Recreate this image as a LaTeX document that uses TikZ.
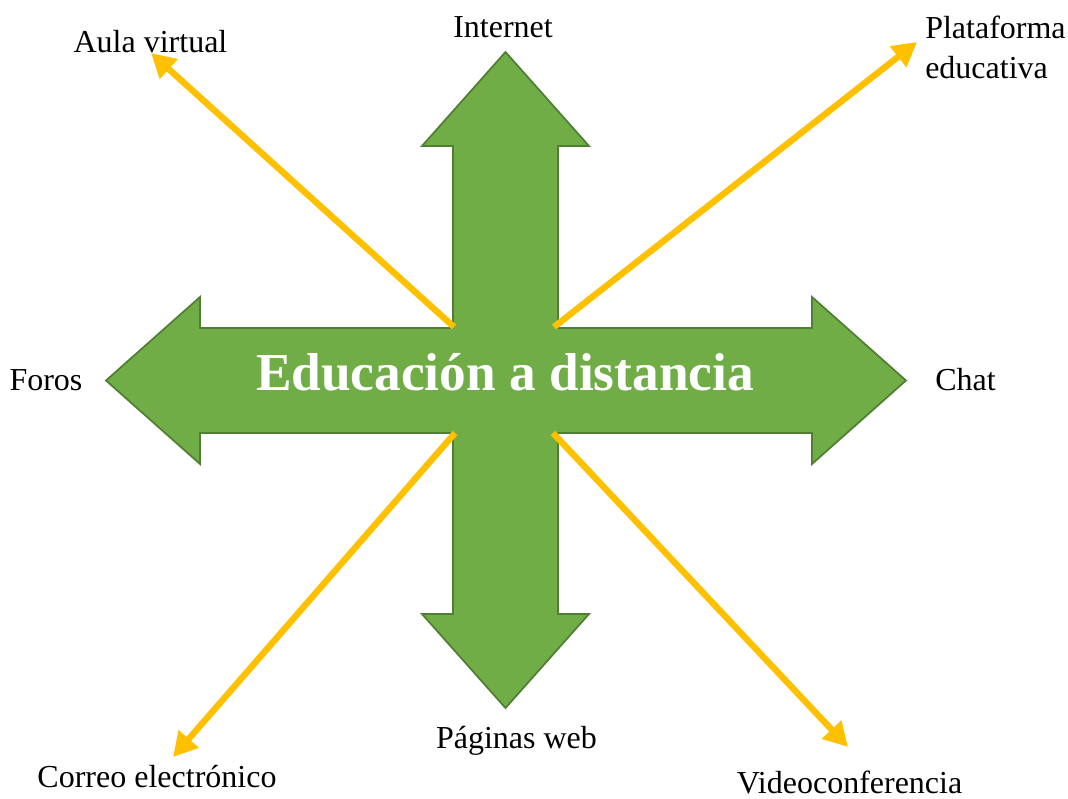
\documentclass[tikz,border=0pt]{standalone}
\usepackage{fontspec}
\setmainfont{Liberation Serif}
\usetikzlibrary{positioning, arrows.meta}
\definecolor{verde}{HTML}{70AD47}
\definecolor{verdeborde}{HTML}{507E32}
\definecolor{amarillo}{HTML}{FFC000}

\begin{document}
\begin{tikzpicture}[x=0.75pt, y=-0.75pt]
        % Estilos
        \tikzstyle{etiqueta} = [inner sep=0pt, font=\fontsize{24}{30}\selectfont, text=black]
        \tikzstyle{flecha} = [line width=4.8pt, draw=amarillo, -{Triangle[length=18pt, width=19pt]}]
        \tikzstyle{cruz} = [fill=verde, draw=verdeborde, line width=1.3pt, line join=miter]

        \useasboundingbox (0,0) rectangle (1068,799);

        % Cruz de cuatro flechas
        \draw [cruz] (453,328) -- (453,146) -- (422,146) -- (505.5,52) -- (589,146) -- (558,146) -- (558,328)
            -- (812,328) -- (812,297) -- (906,380.5) -- (812,464) -- (812,433)
            -- (558,433) -- (558,614) -- (589,614) -- (505.5,708) -- (422,614) -- (453,614)
            -- (453,433) -- (200,433) -- (200,464) -- (106,380.5) -- (200,297) -- (200,328) -- cycle;

        \node (titulo) [anchor=base, text=white, font=\fontsize{40}{48}\selectfont\bfseries] at (505,390) {Educación a distancia};

        % Etiquetas
        \node (internet) [etiqueta, anchor=base] at (503,38) {Internet};
        \node (paginas) [etiqueta, anchor=base] at (516.5,748) {Páginas web};
        \node (foros) [etiqueta, anchor=base] at (46,390) {Foros};
        \node (chat) [etiqueta, anchor=base] at (965.5,390) {Chat};
        \node (aula) [etiqueta, anchor=base] at (150.5,53) {Aula virtual};
        \node (plataforma) [etiqueta, anchor=north west, align=left] at (925,16) {Plataforma\\educativa};
        \node (correo) [etiqueta, anchor=base] at (157,787) {Correo electrónico};
        \node (video) [etiqueta, anchor=base] at (849.5,793) {Videoconferencia};

        % Puntos de las flechas
        \coordinate (c-no) at (454,327);
        \coordinate (c-ne) at (554,327);
        \coordinate (c-so) at (455,433);
        \coordinate (c-se) at (553,433);
        \coordinate (p-aula) at (151,53);
        \coordinate (p-plataforma) at (917,42);
        \coordinate (p-correo) at (173,757);
        \coordinate (p-video) at (848,747);

        % Flechas
        \draw [flecha] (c-no) -- (p-aula);
        \draw [flecha] (c-ne) -- (p-plataforma);
        \draw [flecha] (c-so) -- (p-correo);
        \draw [flecha] (c-se) -- (p-video);
    \end{tikzpicture}
\end{document}
